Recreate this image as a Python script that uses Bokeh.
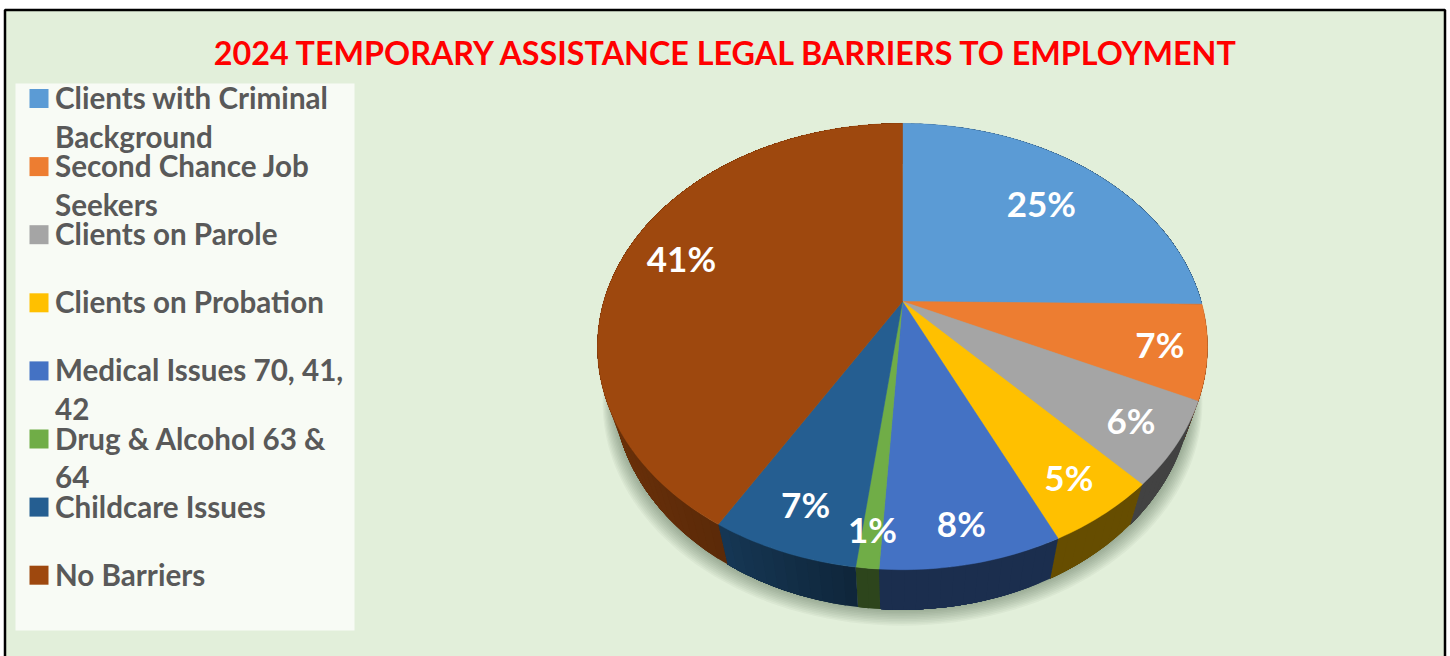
import numpy as np
from bokeh.plotting import figure
from bokeh.models import Range1d
from bokeh.core.properties import value
from bokeh.embed import file_html
from bokeh.resources import INLINE

TITLE = "2024 TEMPORARY ASSISTANCE LEGAL BARRIERS TO EMPLOYMENT"
legend_lines = [
    ["Clients with Criminal", "Background"],
    ["Second Chance Job", "Seekers"],
    ["Clients on Parole"],
    ["Clients on Probation"],
    ["Medical Issues 70, 41,", "42"],
    ["Drug & Alcohol 63 &", "64"],
    ["Childcare Issues"],
    ["No Barriers"],
]
shares = [25.2, 6.8, 6, 5, 8, 1, 6.51, 41.49]
colors = ["#5b9bd5", "#ed7d31", "#a5a5a5", "#ffc000", "#4472c4", "#70ad47", "#255e91", "#9e480e"]
label_radius = [0.72, 0.85, 0.85, 0.85, 0.87, 0.88, 0.84, 0.80]

# pie projection
CX, CY, R, PERSP, DEPTH_Y = 902.0, 301.0, 298.7, 0.202, 214.0
WALL_SCALE, WALL_DROP = 0.95, 40.0


def project(angle_deg, r=1.0):
    a = np.radians(angle_deg)
    u, v = r * np.sin(a), r * np.cos(a)
    d = 1 + PERSP * v
    return CX + R * u / d, CY - DEPTH_Y * v / d


def lower(x, y):
    return CX + (x - CX) * WALL_SCALE, y + WALL_DROP


def shade(hex_color, f):
    c = [int(hex_color[i:i + 2], 16) for i in (1, 3, 5)]
    return "#%02x%02x%02x" % tuple(int(round(k * f)) for k in c)


p = figure(width=1458, height=664, x_range=Range1d(-8, 1450), y_range=Range1d(656, -8),
           output_backend="svg", toolbar_location=None, min_border=0,
           background_fill_color="white", border_fill_color="white",
           outline_line_color=None, margin=(-8, 0, 0, -8))
p.axis.visible = False
p.grid.visible = False

# panel
p.quad(left=[4.5], right=[1444.5], top=[9.5], bottom=[670], fill_color="#e2efda",
       line_color="black", line_width=2.5)

# legend box
p.quad(left=[15], right=[354], top=[83], bottom=[630], fill_color="#f8fbf5", line_color=None)

# title
p.text(x=[727], y=[52], text=[TITLE], text_color="#ff0000", text_font=value("Lato"),
       text_font_style="bold", text_font_size="32.3px", text_align="center", text_baseline="middle")

# legend
sx, sy, tx, ty, ts = [], [], [], [], []
for i, lines in enumerate(legend_lines):
    y0 = 98 + 68.1 * i
    sx.append(38.5)
    sy.append(y0)
    for j, line in enumerate(lines):
        tx.append(54.5)
        ty.append(y0 - 1 + 39 * j)
        ts.append(line)
p.scatter(x=sx, y=sy, size=19, marker="square", fill_color=colors, line_color=None)
p.text(x=tx, y=ty, text=ts, text_color="#595959", text_font=value("Lato"), text_font_style="bold",
       text_font_size="29.6px", text_align="left", text_baseline="middle")

# shadow
ring = np.arange(0, 360.5, 2.0)
rx, ry = project(ring)
bx, by = lower(rx, ry)
for k in range(1, 11):
    grow = 1 + 0.0035 * k
    p.patch(x=CX + (bx - CX) * grow, y=by + 1.6 * k, fill_color="#2f3d25", fill_alpha=0.045, line_color=None)

# walls: each strip runs to the end of its slice and the next one paints over it, so no seams show
edges = np.concatenate([[0], np.cumsum(shares)]) * 3.6
wall_x, wall_y, wall_c = [], [], []
for s, col in enumerate(colors):
    a0, a1 = edges[s], edges[s + 1]
    n = max(1, int(np.ceil((a1 - a0) / 2)))
    for b0 in np.linspace(a0, a1, n + 1)[:-1]:
        arc = np.linspace(b0, a1, max(2, int(a1 - b0) + 2))
        x, y = project(arc)
        lx_, ly_ = lower(x, y)
        f = np.interp(b0 + (a1 - a0) / n / 2, [0, 187, 210, 250, 300], [0.4, 0.4, 0.58, 0.7, 0.74])
        wall_x.append(np.concatenate([x, lx_[::-1]]).tolist())
        wall_y.append(np.concatenate([y, ly_[::-1]]).tolist())
        wall_c.append(shade(col, f))
p.patches(xs=wall_x, ys=wall_y, fill_color=wall_c, line_color=None)

# top faces
top_x, top_y = [], []
for s in range(len(shares)):
    a = np.linspace(edges[s], edges[s + 1], max(3, int(shares[s] * 3.6)))
    x, y = project(a)
    top_x.append(np.concatenate([[CX], x]).tolist())
    top_y.append(np.concatenate([[CY], y]).tolist())
p.patches(xs=top_x, ys=top_y, fill_color=colors, line_color=colors, line_width=0.5)

# data labels
mids = (edges[:-1] + edges[1:]) / 2
lx, ly = project(mids, np.array(label_radius))
labels = ["%d%%" % round(v) for v in shares]
p.text(x=lx.tolist(), y=ly.tolist(), text=labels, text_color="white", text_font=value("Lato"),
       text_font_style="bold", text_font_size="35px", text_align="center", text_baseline="middle")

open("out.html", "w").write(file_html(p, INLINE))
